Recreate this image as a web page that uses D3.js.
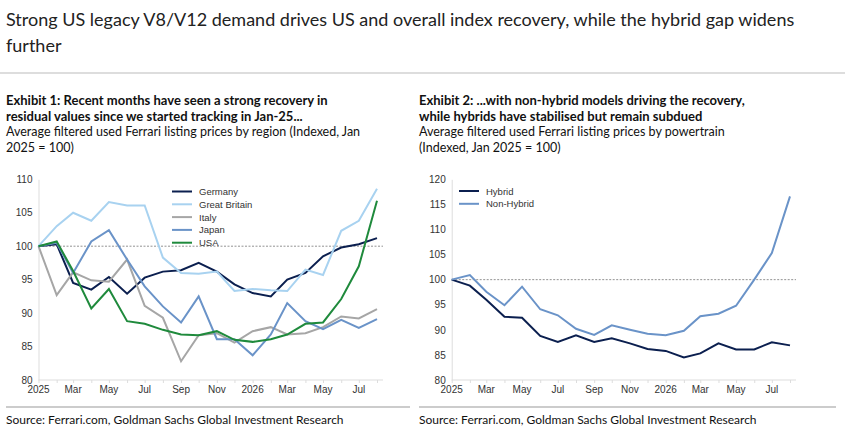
<!DOCTYPE html>
<html><head><meta charset="utf-8">
<script src="https://cdn.jsdelivr.net/npm/d3@7"></script>
<style>
body{margin:0;background:#fff;font-family:Lato,"Noto Sans",sans-serif;}
</style></head><body>
<svg id="c" width="845" height="431"></svg>
<script>
const months = d3.range(20).map(i => new Date(2025, i, 1));
const tickLabels = ["2025","Mar","May","Jul","Sep","Nov","2026","Mar","May","Jul"];

const germany = [100,100.3,94.5,93.5,95.4,92.9,95.3,96.2,96.4,97.5,96.2,94.3,93,92.5,95,96,98.5,99.8,100.3,101.2];
const greatBritain = [100,103,105,103.8,106.6,106.1,106.1,98.3,96,95.9,96.2,93.3,93.6,93.4,93.3,96.5,95.7,102.3,103.8,108.6];
const italy = [100,92.7,96.1,94.9,94.7,98,91.1,89.3,82.8,86.7,87,85.6,87.3,87.9,86.8,87,87.9,89.5,89.2,90.6];
const japan = [100,100.5,96,100.7,102.4,98,94,91,88.6,92.5,86.1,86.1,83.7,86.8,91.5,88.8,87.6,89,87.8,89.1];
const usa = [100,100.7,96.3,90.7,93.6,88.8,88.4,87.5,86.8,86.7,87.3,86,85.7,86.1,86.8,88.4,88.6,92.1,97,106.8];

const hybrid = [100,98.8,96,92.6,92.4,88.8,87.6,88.9,87.6,88.3,87.3,86.2,85.8,84.5,85.3,87.3,86.1,86.1,87.5,86.9];
const nonHybrid = [100,100.9,97.6,94.9,98.6,94.1,92.9,90.2,89,90.9,90,89.2,88.9,89.8,92.7,93.2,94.8,100,105.3,116.6];

const svg = d3.select("#c");
const txt = (x,y,s,size,weight,fill) => svg.append("text").attr("x",x).attr("y",y).text(s)
  .attr("font-size",size).attr("font-weight",weight||400).attr("fill",fill||"#111");

txt(6,26,"Strong US legacy V8/V12 demand drives US and overall index recovery, while the hybrid gap widens",18,400,"#222");
txt(6,52,"further",18,400,"#222");
svg.append("line").attr("x1",0).attr("x2",845).attr("y1",73).attr("y2",73).attr("stroke","#bbb");

txt(6,105,"Exhibit 1: Recent months have seen a strong recovery in",13,700);
txt(6,121,"residual values since we started tracking in Jan-25...",13,700);
txt(6,136,"Average filtered used Ferrari listing prices by region (Indexed, Jan",12.5);
txt(6,152,"2025 = 100)",12.5);
txt(419,105,"Exhibit 2: ...with non-hybrid models driving the recovery,",13,700);
txt(419,121,"while hybrids have stabilised but remain subdued",13,700);
txt(419,136,"Average filtered used Ferrari listing prices by powertrain",12.5);
txt(419,152,"(Indexed, Jan 2025 = 100)",12.5);

svg.append("line").attr("x1",6).attr("x2",410).attr("y1",407).attr("y2",407).attr("stroke","#999");
svg.append("line").attr("x1",419).attr("x2",836).attr("y1",407).attr("y2",407).attr("stroke","#999");
txt(6,424,"Source: Ferrari.com, Goldman Sachs Global Investment Research",12);
txt(419,424,"Source: Ferrari.com, Goldman Sachs Global Investment Research",12);

function chart(x0, x1, yDomain, yStep, series, legendX, legendY) {
  const x = d3.scaleTime().domain([months[0], months[19]]).range([x0, x1]);
  const y = d3.scaleLinear().domain(yDomain).range([380, 179.3]);
  const g = svg.append("g").attr("font-family","Arial, 'Liberation Sans', sans-serif");
  const ya = g.append("g").attr("transform",`translate(${x0},0)`)
    .call(d3.axisLeft(y).tickValues(d3.range(yDomain[0], yDomain[1]+0.1, yStep)).tickSize(0).tickPadding(6));
  ya.select(".domain").attr("stroke","#ddd");
  ya.selectAll("text").attr("font-size",10).attr("fill","#333");
  const xa = g.append("g").attr("transform","translate(0,380)")
    .call(d3.axisBottom(x).tickValues(months).tickSize(3).tickFormat(""));
  xa.selectAll("line,path").attr("stroke","#ddd");
  xa.select(".domain").attr("d",`M${x0},0H${x1+6}`);
  months.forEach((m,i)=>{ if(i%2===0) g.append("text").attr("x",x(m)).attr("y",393)
    .attr("text-anchor","middle").attr("font-size",10).attr("fill","#333").text(tickLabels[i/2]); });
  g.append("line").attr("x1",x0).attr("x2",x1+6).attr("y1",y(100)).attr("y2",y(100))
    .attr("stroke","#777").attr("stroke-dasharray","2,1.5").attr("stroke-width",0.8);
  const line = d3.line().x((d,i)=>x(months[i])).y(d=>y(d));
  series.forEach(s => g.append("path").datum(s.values).attr("d",line)
    .attr("fill","none").attr("stroke",s.color).attr("stroke-width",2));
  series.forEach((s,i)=>{
    const ly = legendY + i*12.8;
    g.append("line").attr("x1",legendX).attr("x2",legendX+20).attr("y1",ly).attr("y2",ly)
      .attr("stroke",s.color).attr("stroke-width",2);
    g.append("text").attr("x",legendX+27).attr("y",ly+3.5).attr("font-size",9.5).attr("fill","#333").text(s.name);
  });
}

chart(38.5, 377, [80,110], 5, [
  {name:"Germany", values:germany, color:"#0b1f4f"},
  {name:"Great Britain", values:greatBritain, color:"#a8d2f0"},
  {name:"Italy", values:italy, color:"#a6a6a6"},
  {name:"Japan", values:japan, color:"#6a93c8"},
  {name:"USA", values:usa, color:"#1f8a3c"}
], 172, 191.5);

chart(451.7, 790, [80,120], 5, [
  {name:"Hybrid", values:hybrid, color:"#0b1f4f"},
  {name:"Non-Hybrid", values:nonHybrid, color:"#6a93c8"}
], 459, 191);
</script></body></html>
